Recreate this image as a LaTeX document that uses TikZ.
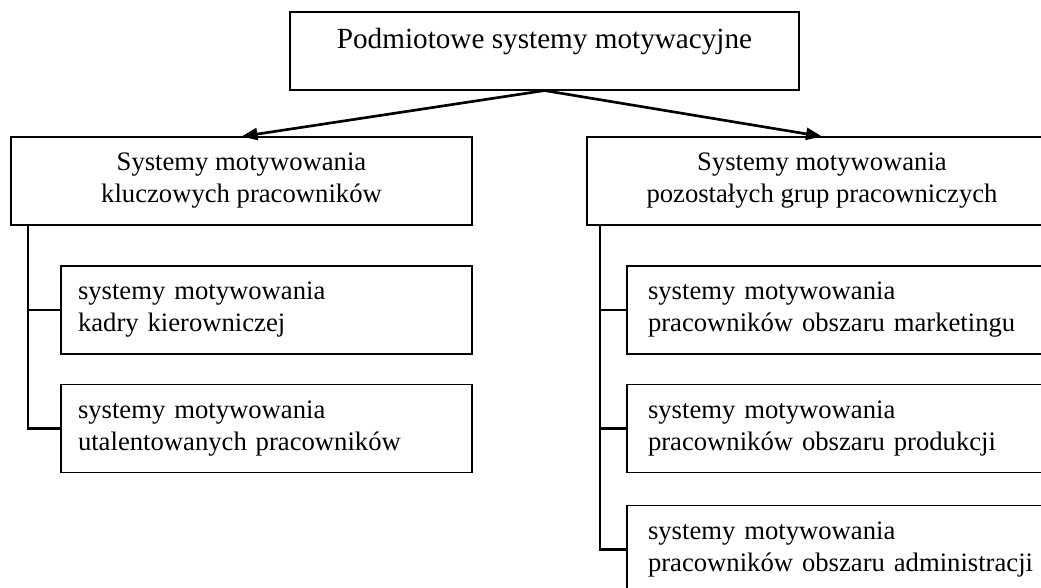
\documentclass[tikz,border=0pt]{standalone}
\usepackage{fontspec}
\setmainfont{Liberation Serif}
\usetikzlibrary{arrows.meta}

\begin{document}
\begin{tikzpicture}[x=0.75pt,y=-0.75pt,
  box/.style={draw,line width=0.8pt,minimum height=66pt,align=center,font=\fontsize{20}{24}\selectfont},
  subbox/.style={draw,line width=0.8pt,minimum height=66pt,align=left,font=\fontsize{20}{24}\selectfont},
  arr/.style={line width=2pt,-{Triangle[length=12pt,width=9pt]}},
  stem/.style={line width=1.6pt}]
\useasboundingbox (0,0) rectangle (1041,587);
\clip (0,0) rectangle (1041,587);
% main box
\node[draw,line width=0.8pt,minimum width=381.75pt,minimum height=58.5pt,text height=16pt,text depth=20pt,
  font=\fontsize{21.9}{26}\selectfont] (main) at (544.5,51) {Podmiotowe systemy motywacyjne};
% second level
\node[box,minimum width=345.75pt] (lmid) at (241.5,181) {Systemy motywowania\\kluczowych pracowników};
\node[box,minimum width=352.5pt] (rmid) at (822,181) {Systemy motywowania\\pozostałych grup pracowniczych};
\draw[arr] (main.south) -- (lmid.north);
\draw[arr] (main.south) -- (rmid.north);
% left branch
\node[subbox,text width=282.75pt,inner xsep=12.75pt] (lsub1) at (266.5,310) {systemy motywowania\\kadry kierowniczej};
\node[subbox,text width=282.75pt,inner xsep=12.75pt] (lsub2) at (266.5,428.5) {systemy motywowania\\utalentowanych pracowników};
\coordinate (lstem) at (28,225);
\draw[stem] (lstem) |- (lsub2.west);
\draw[stem] (lstem |- lsub1.west) -- (lsub1.west);
% right branch
\node[subbox,text width=313.5pt,inner xsep=15.75pt] (rsub1) at (857,310) {systemy motywowania\\pracowników obszaru marketingu};
\node[subbox,text width=313.5pt,inner xsep=15.75pt] (rsub2) at (857,428.5) {systemy motywowania\\pracowników obszaru produkcji};
\node[subbox,text width=313.5pt,inner xsep=15.75pt] (rsub3) at (857,549.5) {systemy motywowania\\pracowników obszaru administracji};
\coordinate (rstem) at (600,225);
\draw[stem] (rstem) |- (rsub3.west);
\draw[stem] (rstem |- rsub1.west) -- (rsub1.west);
\draw[stem] (rstem |- rsub2.west) -- (rsub2.west);
\end{tikzpicture}
\end{document}
